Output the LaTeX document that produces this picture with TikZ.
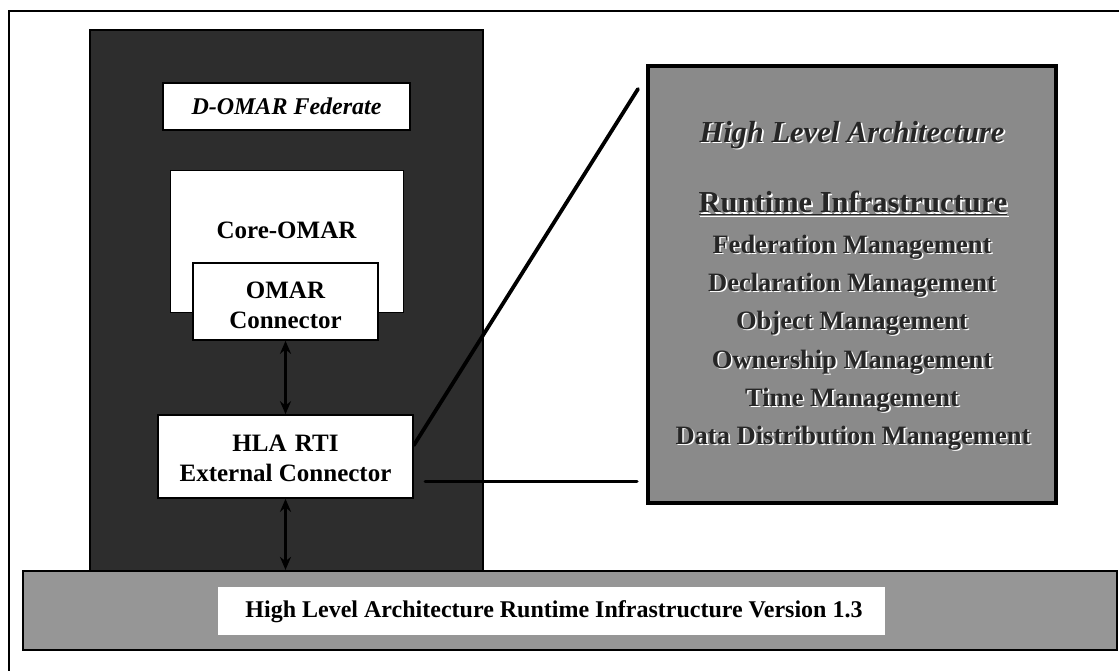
\documentclass[tikz,border=0pt]{standalone}
\usepackage{fontspec}
\setmainfont{Liberation Serif}
\usetikzlibrary{arrows.meta}
\definecolor{fedgray}{RGB}{45,45,45}
\definecolor{panelgray}{RGB}{138,138,138}
\definecolor{bargray}{RGB}{150,150,150}
% embossed text: a white copy offset down-right, dark text on top
\newcommand\embtext[4]{%
  \node[font=#3, text=white, xshift=1.6pt, yshift=-1.6pt] at (#2) {#4};
  \node[font=#3, text=black!85] (#1) at (#2) {#4};}
\begin{document}
\begin{tikzpicture}[x=1pt,y=-1pt,
  whitebox/.style={draw=black, line width=1.6pt, fill=white, inner sep=0pt},
  lbl/.style={font=\bfseries\fontsize{25}{30}\selectfont, align=center, inner sep=0pt},
  conn/.style={line width=3pt, line cap=round},
  link/.style={{Stealth[length=13pt,width=11pt]}-{Stealth[length=13pt,width=11pt]}, line width=2.2pt},
]
\useasboundingbox (0,0) rectangle (1119,671);
\fill[white] (0,0) rectangle (1119,671);

% page frame (only top and left edges fall inside)
\draw[line width=1.5pt] (1130,11) -- (9,11) -- (9,690);

% D-OMAR federate container
\node[draw=black, line width=1.5pt, fill=fedgray, minimum width=393, minimum height=541, inner sep=0pt] (fed) at (286.5,300.5) {};
\node[whitebox, minimum width=247, minimum height=47] (title) at (286.5,106.5) {};
\node[font=\bfseries\itshape\fontsize{24}{28}\selectfont, inner sep=0pt] (titletext) at (title) {D-OMAR Federate};

\node[fill=white, draw=black, line width=0.8pt, minimum width=233, minimum height=142, inner sep=0pt] (core) at (286.5,241) {};
\node[lbl] (coretext) at (286.5,230) {Core-OMAR};

\node[whitebox, minimum width=185, minimum height=77] (omar) at (285.5,301.5) {};
\node[lbl] (omartext) at (285.5,305) {OMAR\\Connector};

\node[whitebox, minimum width=255, minimum height=83] (hla) at (285.5,456.5) {};
\node[lbl] (hlatext) at (285.5,458) {HLA\,\,RTI\\External Connector};

% runtime infrastructure bar
\node[draw=black, line width=2.2pt, fill=bargray, minimum width=1094, minimum height=79, inner sep=0pt] (bar) at (570,610.5) {};
\node[fill=white, minimum width=667, minimum height=48, inner sep=0pt] (barlabel) at (551.5,611) {};
\node[font=\bfseries\fontsize{24}{28}\selectfont, inner sep=0pt] (bartext) at (554,612) {High Level Architecture Runtime Infrastructure Version 1.3};

% links between connectors and the RTI
\draw[link] (omar.south) -- (hla.north);
\draw[link] (hla.south) -- (hla.south |- bar.north);

% HLA services panel
\node[draw=black, line width=4pt, fill=panelgray, minimum width=408, minimum height=437, inner sep=0pt] (panel) at (852,284.5) {};
\embtext{p0}{852,135}{\bfseries\itshape\fontsize{30.5}{34}\selectfont}{High Level Architecture}
\embtext{p1}{853,203}{\bfseries\fontsize{30.5}{34}\selectfont}{\underline{Runtime Infrastructure}}
\embtext{p2}{852,247}{\bfseries\fontsize{26.5}{30}\selectfont}{Federation Management}
\embtext{p3}{852,285}{\bfseries\fontsize{26.5}{30}\selectfont}{Declaration Management}
\embtext{p4}{852,323}{\bfseries\fontsize{26.5}{30}\selectfont}{Object Management}
\embtext{p5}{852,362}{\bfseries\fontsize{26.5}{30}\selectfont}{Ownership Management}
\embtext{p6}{852,400}{\bfseries\fontsize{26.5}{30}\selectfont}{Time Management}
\embtext{p7}{853,438}{\bfseries\fontsize{26.5}{30}\selectfont}{Data Distribution Management}

% call-out lines from the external connector to the panel
\coordinate (diagtop) at (638,89);
\coordinate (hstart) at (425,481);
\coordinate (hend) at (637,481);
\draw[conn, line width=3.8pt] (hla.5) -- (diagtop);
\draw[conn] (hstart) -- (hend);
\end{tikzpicture}
\end{document}
